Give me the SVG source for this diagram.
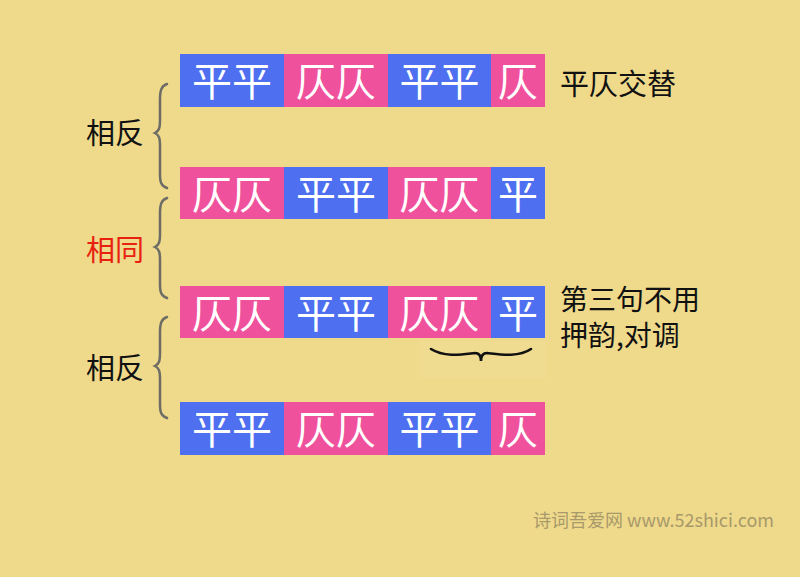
<svg xmlns="http://www.w3.org/2000/svg" width="800" height="577" viewBox="0 0 800 577">
<style>
.bg{fill:#efd98b}
.b{fill:#4d6ff0}
.p{fill:#f0519c}
.t{font-family:"Noto Sans CJK SC","Noto Sans",sans-serif;fill:#fff;font-size:40px;text-anchor:middle;dominant-baseline:central}
.lab{font-family:"Noto Sans CJK SC","Noto Sans",sans-serif;fill:#111;font-size:29px;dominant-baseline:central}
.br{fill:none;stroke:#6d6d66;stroke-width:2.5;stroke-linecap:round}
</style>
<rect class="bg" x="0" y="0" width="800" height="577"/>
<g id="row1">
<rect class="b" x="180" y="54" width="104" height="53"/><text class="t" x="232" y="79">平平</text>
<rect class="p" x="284" y="54" width="104" height="53"/><text class="t" x="336" y="79">仄仄</text>
<rect class="b" x="388" y="54" width="103" height="53"/><text class="t" x="439.5" y="79">平平</text>
<rect class="p" x="491" y="54" width="54" height="53"/><text class="t" x="518" y="79">仄</text>
</g>
<g id="row2">
<rect class="p" x="180" y="167" width="104" height="52"/><text class="t" x="232" y="192">仄仄</text>
<rect class="b" x="284" y="167" width="104" height="52"/><text class="t" x="336" y="192">平平</text>
<rect class="p" x="388" y="167" width="103" height="52"/><text class="t" x="439.5" y="192">仄仄</text>
<rect class="b" x="491" y="167" width="54" height="52"/><text class="t" x="518" y="192">平</text>
</g>
<g id="row3">
<rect class="p" x="180" y="286" width="104" height="52"/><text class="t" x="232" y="311">仄仄</text>
<rect class="b" x="284" y="286" width="104" height="52"/><text class="t" x="336" y="311">平平</text>
<rect class="p" x="388" y="286" width="103" height="52"/><text class="t" x="439.5" y="311">仄仄</text>
<rect class="b" x="491" y="286" width="54" height="52"/><text class="t" x="518" y="311">平</text>
</g>
<g id="row4">
<rect class="b" x="180" y="402" width="104" height="53"/><text class="t" x="232" y="427">平平</text>
<rect class="p" x="284" y="402" width="104" height="53"/><text class="t" x="336" y="427">仄仄</text>
<rect class="b" x="388" y="402" width="103" height="53"/><text class="t" x="439.5" y="427">平平</text>
<rect class="p" x="491" y="402" width="54" height="53"/><text class="t" x="518" y="427">仄</text>
</g>
<g id="connectors">
<path class="br" d="M167,84 C161,86 160,91 160,100 L160,120 C160,128 159,131 155,133 C159,135 160,138 160,146 L160,174 C160,182 161,186 167,188"/>
<path class="br" d="M167,198 C161,200 160,205 160,214 L160,234 C160,242 159,245 155,247 C159,249 160,252 160,260 L160,284 C160,292 161,296 167,298"/>
<path class="br" d="M167,317 C161,319 160,324 160,333 L160,353 C160,361 159,364 155,366 C159,368 160,371 160,379 L160,404 C160,412 161,416 167,418"/>
<rect x="420" y="341" width="126" height="37" fill="#f1dd93" opacity="0.7"/>
<path d="M431,349 C445,358 465,354 475,353 C479,353 481,356 481,361 C481,356 483,353 487,353 C497,354 518,358 531,349" fill="none" stroke="#111" stroke-width="2.6" stroke-linecap="round"/>
</g>
<g id="labels">
<text class="lab" x="86" y="131">相反</text>
<text class="lab" x="86" y="248" style="fill:#e8200f">相同</text>
<text class="lab" x="86" y="366">相反</text>
<text class="lab" x="560" y="82">平仄交替</text>
<text class="lab" x="560" y="298" style="font-size:28px">第三句不用</text>
<text class="lab" x="560" y="334" style="font-size:28px">押韵,对调</text>
</g>
<text x="533" y="519" font-family="'Noto Sans CJK SC','Noto Sans',sans-serif" font-size="18" fill="#a8996a" dominant-baseline="central">诗词吾爱网 www.52shici.com</text>
</svg>
